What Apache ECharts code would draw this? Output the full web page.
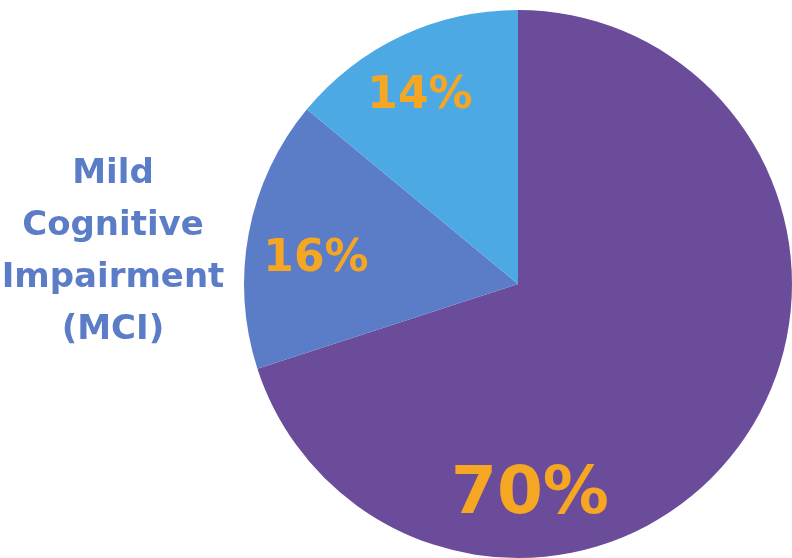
<!DOCTYPE html>
<html><head><meta charset="utf-8">
<script src="https://cdn.jsdelivr.net/npm/echarts@6/dist/echarts.min.js"></script>
<style>html,body{margin:0;padding:0;background:#fff}#c{width:792px;height:558px}</style>
</head><body><div id="c"></div>
<script>
const categories = ['Other', 'Mild Cognitive Impairment (MCI)', 'Normal'];
const values = [70, 16, 14];
const colors = ['#6A4C9A', '#5B7CC6', '#4CA9E4'];
const labelSizes = [66, 44, 44];
const labelPos = [[530, 496], [316, 260], [420, 97]];

const chart = echarts.init(document.getElementById('c'));
chart.setOption({
  animation: false,
  series: [{
    type: 'pie',
    center: [518, 284],
    radius: [0, 274],
    startAngle: 90,
    clockwise: true,
    silent: true,
    data: categories.map((n, i) => ({
      name: n, value: values[i],
      itemStyle: { color: colors[i] },
      label: { fontSize: labelSizes[i] }
    })),
    label: {
      show: true, position: 'inside',
      formatter: p => p.value + '%',
      color: '#F5A623', fontWeight: 'bold',
      fontFamily: 'DejaVu Sans'
    },
    labelLine: { show: false },
    labelLayout: p => ({ x: labelPos[p.dataIndex][0], y: labelPos[p.dataIndex][1], align: 'center', verticalAlign: 'middle' })
  }],
  graphic: [{
    type: 'text',
    style: {
      text: 'Mild\nCognitive\nImpairment\n(MCI)',
      fill: '#5B7CC6', font: 'bold 34px "DejaVu Sans"',
      align: 'center', lineHeight: 52
    },
    x: 113, y: 148
  }]
});
</script></body></html>
